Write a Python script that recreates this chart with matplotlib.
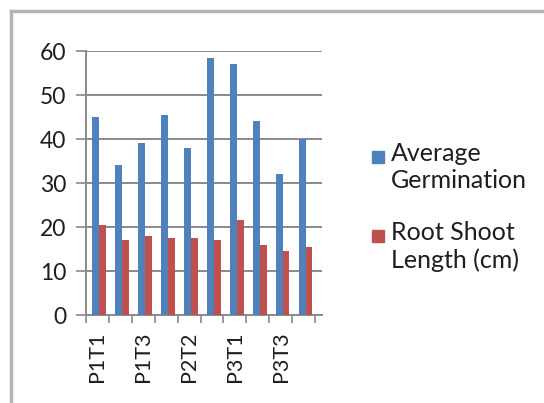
import numpy as np
import matplotlib
matplotlib.use("Agg")
import matplotlib.pyplot as plt
from matplotlib.lines import Line2D
from matplotlib.patches import Rectangle

# data
categories = ["P1T1", "P1T2", "P1T3", "P2T1", "P2T2",
              "P2T3", "P3T1", "P3T2", "P3T3", "Control"]
germination = [45, 34, 39, 45.5, 38, 58.5, 57, 44, 32, 40]
root_shoot = [20.5, 17, 18, 17.5, 17.5, 17, 21.5, 16, 14.5, 15.5]
series_names = ["Average\nGermination", "Root Shoot\nLength (cm)"]
colors = ["#4F81BD", "#C0504D"]
yticks = [0, 10, 20, 30, 40, 50, 60]

plt.rcParams['font.family'] = ['Lato', 'DejaVu Sans']
W, H = 544, 403
fig = plt.figure(figsize=(W / 100, H / 100), dpi=100)
fig.patch.set_facecolor("white")

# outer frame of the chart object (top and left edges visible)
fig.add_artist(Line2D([10.5 / W, 10.5 / W], [0, 1 - 10.5 / H],
                      transform=fig.transFigure, color="#b5b5b5", lw=2.5))
fig.add_artist(Line2D([10.5 / W, 1], [1 - 10.5 / H, 1 - 10.5 / H],
                      transform=fig.transFigure, color="#b5b5b5", lw=2.5))

ax = fig.add_axes([86 / W, (H - 315) / H, 236 / W, 264 / H])
x = np.arange(len(categories))
bw = 0.3
ax.bar(x - 0.07, germination, bw, color=colors[0], zorder=3)
ax.bar(x + 0.23, root_shoot, bw, color=colors[1], zorder=3)

ax.set_xlim(-0.5, 9.8)
ax.set_ylim(0, 60)
ax.set_yticks(yticks)
ax.grid(axis="y", color="#8a8a8a", lw=1.4, zorder=0)
for s in ["top", "right"]:
    ax.spines[s].set_visible(False)
for s in ["left", "bottom"]:
    ax.spines[s].set_color("#8a8a8a")
    ax.spines[s].set_linewidth(1.4)

# ticks between categories, labels on every other category
ax.set_xticks(np.arange(-0.5, 10, 1), minor=False)
ax.set_xticklabels([])
ax.set_xticks(x[::2], minor=True)
ax.set_xticklabels(categories[::2], minor=True, rotation=90, fontsize=15.5,
                   color="#1e1e1e")
ax.tick_params(axis="x", which="major", length=6, width=1.2, color="#8a8a8a")
ax.tick_params(axis="x", which="minor", length=0, pad=12)
ax.tick_params(axis="y", length=7, width=1.2, color="#8a8a8a",
               labelsize=16.5, labelcolor="#1e1e1e", pad=7)

# legend
for i, (name, c) in enumerate(zip(series_names, colors)):
    top = 151 + i * 79
    fig.add_artist(Rectangle((372 / W, 1 - (top + 12) / H), 12 / W, 12 / H,
                             transform=fig.transFigure, color=c))
    fig.text(391 / W, 1 - (top - 9) / H, name, fontsize=18,
             color="#1e1e1e", va="top", ha="left", linespacing=1.2)

fig.savefig("out.png", dpi=100)
